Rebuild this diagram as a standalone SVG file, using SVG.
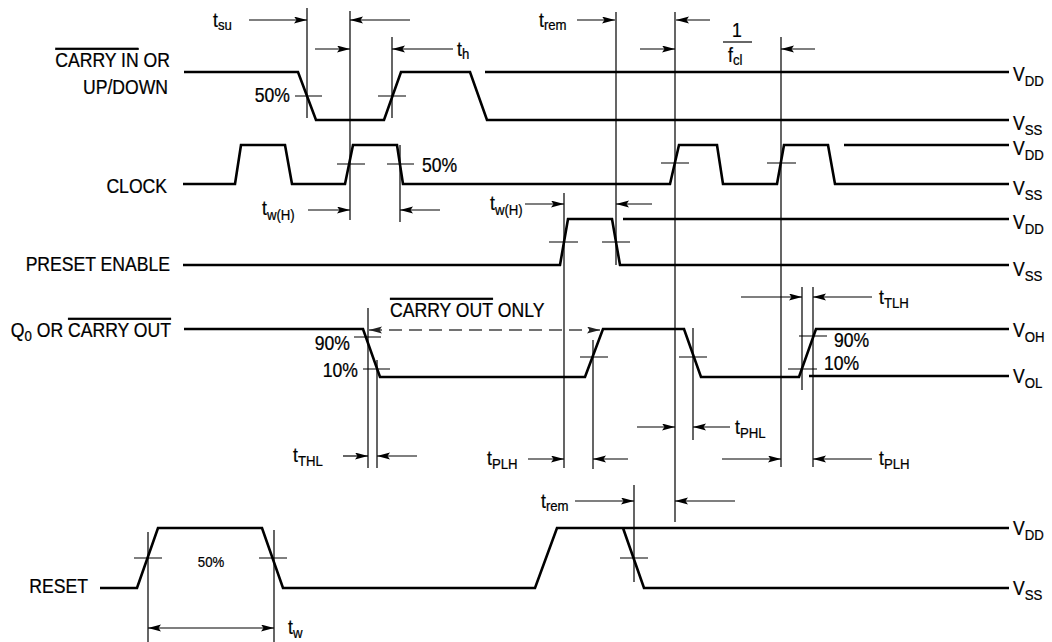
<svg xmlns="http://www.w3.org/2000/svg" width="1052" height="642" viewBox="0 0 1052 642">
<defs>
<style>
text{font-family:"Liberation Sans",Arial,sans-serif;font-size:20px;fill:#000;stroke:#000;stroke-width:0.25}
.sub{font-size:15px}
.small{font-size:15px}
.end{text-anchor:end}
.mid{text-anchor:middle}
.ov{text-decoration:overline}
.wave{fill:none;stroke:#000;stroke-width:2.6;stroke-linejoin:miter}
.thin{fill:none;stroke:#000;stroke-width:1.2}
.arr{fill:none;stroke:#000;stroke-width:1.2;marker-end:url(#ah)}
.dbl{fill:none;stroke:#000;stroke-width:1.2;marker-end:url(#ah);marker-start:url(#ahs)}
.dash{fill:none;stroke:#444;stroke-width:1.5;stroke-dasharray:13 7;marker-end:url(#ahg);marker-start:url(#ahgs)}
</style>
<marker id="ah" markerUnits="userSpaceOnUse" markerWidth="14" markerHeight="8" refX="13" refY="3.5" orient="auto"><path d="M0,0 L13,3.5 L0,7 L2.5,3.5 z" fill="#000"/></marker>
<marker id="ahs" markerUnits="userSpaceOnUse" markerWidth="14" markerHeight="8" refX="13" refY="3.5" orient="auto-start-reverse"><path d="M0,0 L13,3.5 L0,7 L2.5,3.5 z" fill="#000"/></marker>
<marker id="ahg" markerUnits="userSpaceOnUse" markerWidth="14" markerHeight="8" refX="13" refY="3.5" orient="auto"><path d="M0,0 L13,3.5 L0,7 L2.5,3.5 z" fill="#222"/></marker>
<marker id="ahgs" markerUnits="userSpaceOnUse" markerWidth="14" markerHeight="8" refX="13" refY="3.5" orient="auto-start-reverse"><path d="M0,0 L13,3.5 L0,7 L2.5,3.5 z" fill="#222"/></marker>
</defs>
<rect width="1052" height="642" fill="#fff"/>

<g id="sig-carry-in">
<text class="end" transform="translate(170,67) scale(0.88,1)"><tspan class="ov">CARRY IN</tspan> OR</text>
<text class="end" transform="translate(168,94) scale(0.88,1)">UP/DOWN</text>
<path class="wave" d="M184,72 H298 L316,120 H384 L401,72 H470 L487,120 H1009 M485,72 H1009"/>
<path class="thin" d="M295,96 H322 M378,96 H406"/>
<text class="end" transform="translate(290,102) scale(0.88,1)">50%</text>
<text transform="translate(1013,81) scale(0.88,1)">V<tspan class="sub" dy="5">DD</tspan></text>
<text transform="translate(1013,130) scale(0.88,1)">V<tspan class="sub" dy="5">SS</tspan></text>
</g>

<g id="sig-clock">
<text class="end" transform="translate(167,193) scale(0.88,1)">CLOCK</text>
<path class="wave" d="M183,184 H235 L241,145 H285 L292,184 H345 L353,145 H397 L403,184 H670 L679,145 H717 L723,184 H777 L784,145 H828 L835,184 H1009 M844,145 H1009"/>
<path class="thin" d="M337,164 H365 M387,164 H414 M661,163 H689 M767,163 H796"/>
<text transform="translate(422,172) scale(0.88,1)">50%</text>
<text transform="translate(1013,155) scale(0.88,1)">V<tspan class="sub" dy="5">DD</tspan></text>
<text transform="translate(1013,195) scale(0.88,1)">V<tspan class="sub" dy="5">SS</tspan></text>
</g>

<g id="sig-preset">
<text class="end" transform="translate(170,271) scale(0.88,1)">PRESET ENABLE</text>
<path class="wave" d="M183,265 H560 L568,219 H612 L620,265 H1009 M623,219 H1009"/>
<path class="thin" d="M549,242 H578 M602,242 H630"/>
<text transform="translate(1013,229) scale(0.88,1)">V<tspan class="sub" dy="5">DD</tspan></text>
<text transform="translate(1013,276) scale(0.88,1)">V<tspan class="sub" dy="5">SS</tspan></text>
</g>

<g id="sig-q">
<text class="end" transform="translate(171,337) scale(0.88,1)">Q<tspan class="sub" dy="4">0</tspan><tspan dy="-4"> OR </tspan><tspan class="ov">CARRY OUT</tspan></text>
<path class="wave" d="M184,329 H363 L380,377 H585 L603,329 H684 L701,377 H799 L816,329 H1009 M809,376 H1009"/>
<path class="thin" d="M354,337 H381 M363,369 H390 M580,357 H608 M679,357 H707 M799,336 H827 M788,369 H817"/>
<text class="end" transform="translate(350,350) scale(0.88,1)">90%</text>
<text class="end" transform="translate(358,377) scale(0.88,1)">10%</text>
<text transform="translate(834,347) scale(0.88,1)">90%</text>
<text transform="translate(824,370) scale(0.88,1)">10%</text>
<text transform="translate(390,317) scale(0.88,1)"><tspan class="ov">CARRY OUT</tspan> ONLY</text>
<text transform="translate(1013,337) scale(0.88,1)">V<tspan class="sub" dy="5">OH</tspan></text>
<text transform="translate(1013,383) scale(0.88,1)">V<tspan class="sub" dy="5">OL</tspan></text>
</g>

<g id="sig-reset">
<text class="end" transform="translate(88,593) scale(0.88,1)">RESET</text>
<path class="wave" d="M100,588 H137 L158,528 H262 L283,588 H535 L557,528 H1009 M623,528 L644,588 H1009"/>
<path class="thin" d="M134,558 H162 M259,558 H287 M620,558 H648"/>
<text class="small mid" transform="translate(211,567) scale(0.88,1)">50%</text>
<text transform="translate(1013,535) scale(0.88,1)">V<tspan class="sub" dy="5">DD</tspan></text>
<text transform="translate(1013,595) scale(0.88,1)">V<tspan class="sub" dy="5">SS</tspan></text>
</g>

<g id="connectors">
<path class="thin" d="M307,8 V118 M350,11 V220 M392,37 V118 M400,145 V222 M564,193 V468 M616,12 V265 M675,12 V522 M781,37 V467 M368,308 V468 M377,360 V468 M593,340 V469 M693,328 V440 M802,287 V390 M813,287 V467 M634,485 V582 M148,532 V642 M274,530 V642"/>
<path class="arr" d="M249,20 H307"/>
<path class="arr" d="M410,20 H350"/>
<path class="arr" d="M577,20 H615"/>
<path class="arr" d="M710,20 H676"/>
<path class="arr" d="M315,49 H350"/>
<path class="arr" d="M453,49 H392"/>
<path class="arr" d="M640,49 H675"/>
<path class="arr" d="M815,49 H781"/>
<path class="arr" d="M308,210 H350"/>
<path class="arr" d="M440,210 H400"/>
<path class="arr" d="M525,204 H564"/>
<path class="arr" d="M652,204 H616"/>
<path class="arr" d="M741,297 H802"/>
<path class="arr" d="M872,297 H813"/>
<path class="dash" d="M369,330 H600"/>
<path class="arr" d="M343,456 H368"/>
<path class="arr" d="M417,456 H377"/>
<path class="arr" d="M528,459 H564"/>
<path class="arr" d="M628,459 H593"/>
<path class="arr" d="M722,459 H781"/>
<path class="arr" d="M872,459 H813"/>
<path class="arr" d="M637,427 H675"/>
<path class="arr" d="M730,427 H693"/>
<path class="arr" d="M575,501 H634"/>
<path class="arr" d="M735,501 H675"/>
<path class="dbl" d="M148,628 H274"/>
</g>

<g id="timing-labels">
<text transform="translate(213,27) scale(0.88,1)">t<tspan class="sub" dy="3">su</tspan></text>
<text transform="translate(457,56) scale(0.88,1)">t<tspan class="sub" dy="3">h</tspan></text>
<text transform="translate(539,27) scale(0.88,1)">t<tspan class="sub" dy="3">rem</tspan></text>
<text class="mid" transform="translate(737,37) scale(0.88,1)">1</text>
<path class="thin" d="M723,42 H752"/>
<text transform="translate(728,62) scale(0.88,1)">f<tspan class="sub" dy="3">cl</tspan></text>
<text transform="translate(262,215) scale(0.88,1)">t<tspan class="sub" dy="5">w(H)</tspan></text>
<text transform="translate(490,210) scale(0.88,1)">t<tspan class="sub" dy="5">w(H)</tspan></text>
<text transform="translate(879,304) scale(0.88,1)">t<tspan class="sub" dy="4">TLH</tspan></text>
<text transform="translate(293,462) scale(0.88,1)">t<tspan class="sub" dy="4">THL</tspan></text>
<text transform="translate(487,465) scale(0.88,1)">t<tspan class="sub" dy="4">PLH</tspan></text>
<text transform="translate(879,465) scale(0.88,1)">t<tspan class="sub" dy="4">PLH</tspan></text>
<text transform="translate(735,434) scale(0.88,1)">t<tspan class="sub" dy="4">PHL</tspan></text>
<text transform="translate(541,508) scale(0.88,1)">t<tspan class="sub" dy="3">rem</tspan></text>
<text transform="translate(288,634) scale(0.88,1)">t<tspan class="sub" dy="4">w</tspan></text>
</g>
</svg>
